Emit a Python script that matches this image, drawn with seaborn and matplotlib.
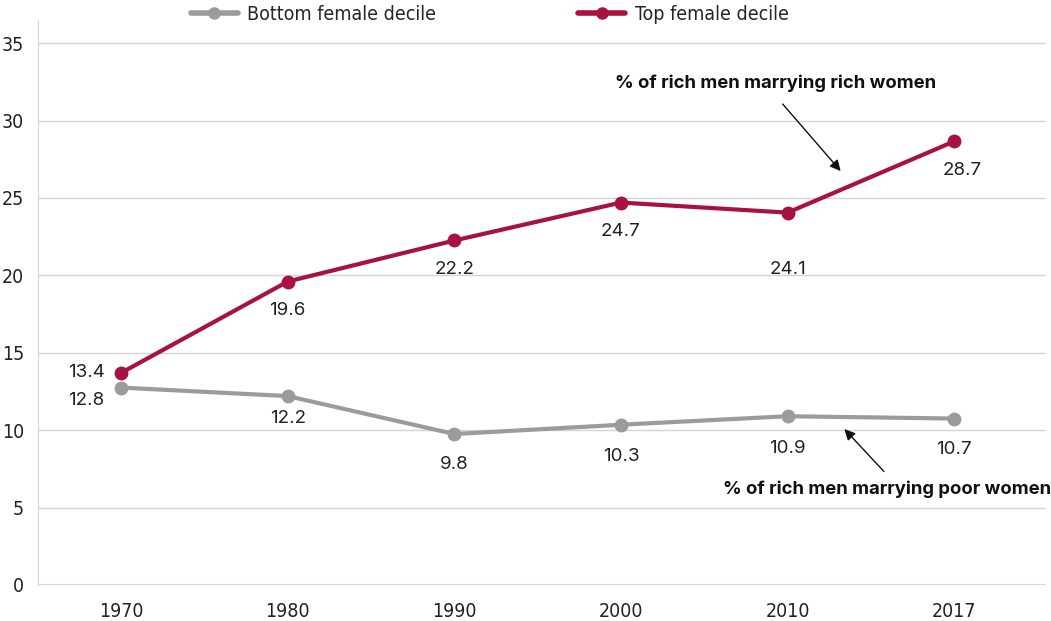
#!/usr/bin/env python3
"""Assortative mating: share of rich men marrying rich / poor women."""

import numpy as np
import pandas as pd
import matplotlib
matplotlib.use("Agg")
import matplotlib.pyplot as plt
import seaborn as sns

years = ["1970", "1980", "1990", "2000", "2010", "2017"]
bottom_vals = [12.75, 12.2, 9.75, 10.35, 10.9, 10.75]
top_vals = [13.7, 19.6, 22.25, 24.7, 24.05, 28.65]
bottom_labels = ["12.8", "12.2", "9.8", "10.3", "10.9", "10.7"]
top_labels = ["13.4", "19.6", "22.2", "24.7", "24.1", "28.7"]
series_names = ["Bottom female decile", "Top female decile"]

RED = "#a8123e"
GREY = "#9b9b9f"
GRID = "#d4d4d4"

df = pd.DataFrame({
    "pos": list(range(len(years))) * 2,
    "value": bottom_vals + top_vals,
    "series": [series_names[0]] * len(years) + [series_names[1]] * len(years),
})

sns.set_style("white")
plt.rcParams["font.family"] = ["DejaVu Sans"]
plt.rcParams["font.stretch"] = "condensed"

fig = plt.figure(figsize=(10.51, 6.21), dpi=100)
ax = fig.add_axes([0.036, 0.058, 0.959, 0.91])

sns.lineplot(data=df, x="pos", y="value", hue="series",
             palette={series_names[0]: GREY, series_names[1]: RED},
             hue_order=series_names, marker="o", markersize=10,
             markeredgewidth=0, linewidth=3, ax=ax, legend=False, zorder=3)

ax.set_xlim(-0.5, 5.55)
ax.set_ylim(0, 36.5)
ax.set_yticks(range(0, 36, 5))
ax.set_xticks(range(len(years)))
ax.set_xticklabels(years)
ax.set_xlabel("")
ax.set_ylabel("")
ax.grid(axis="y", color=GRID, linewidth=1)
ax.set_axisbelow(True)
for s in ["top", "right", "bottom"]:
    ax.spines[s].set_visible(False)
ax.spines["left"].set_color(GRID)
ax.tick_params(axis="y", length=8, color=GRID, labelsize=14, pad=2, labelcolor="#222222")
ax.tick_params(axis="x", length=6, color=GRID, labelsize=14, pad=6, labelcolor="#222222")
ax.axhline(0, color=GRID, linewidth=1.5, zorder=1)

# data labels (offsets in points)
lab_font = dict(family=["Inter", "DejaVu Sans"], fontsize=13.5, color="#222222",
                fontstretch="normal")
top_off = [(-12, 0), (0, -21), (0, -21), (0, -21), (0, -41), (6, -21)]
bot_off = [(-12, -9), (0, -16), (0, -22), (0, -23), (0, -23), (0, -22)]
for i in range(len(years)):
    dx, dy = top_off[i]
    ha = "right" if i == 0 else "center"
    ax.annotate(top_labels[i], (i, top_vals[i]), xytext=(dx, dy),
                textcoords="offset points", ha=ha, va="center", **lab_font)
    dx, dy = bot_off[i]
    ax.annotate(bottom_labels[i], (i, bottom_vals[i]), xytext=(dx, dy),
                textcoords="offset points", ha=ha, va="center", **lab_font)

ann_font = dict(family=["Inter", "DejaVu Sans"], fontsize=13.3, fontweight="bold",
                color="#111111", fontstretch="normal")
ax.text(3.93, 32.4, "% of rich men marrying rich women", ha="center",
        va="center", **ann_font)
ax.annotate("", xy=(4.33, 26.6), xytext=(3.96, 31.2),
            arrowprops=dict(arrowstyle="-|>", color="#111111", lw=1,
                            mutation_scale=16))
ax.text(4.6, 6.2, "% of rich men marrying poor women", ha="center",
        va="center", **ann_font)
ax.annotate("", xy=(4.33, 10.2), xytext=(4.59, 7.2),
            arrowprops=dict(arrowstyle="-|>", color="#111111", lw=1,
                            mutation_scale=16))

# legend on top
handles = [plt.Line2D([], [], color=c, lw=4, marker="o", markersize=9,
                      markeredgewidth=0) for c in (GREY, RED)]
fig.legend(handles, series_names, loc="upper left", bbox_to_anchor=(0.165, 1.02),
           ncol=2, frameon=False, fontsize=14, handlelength=2.4,
           columnspacing=7.3, handletextpad=0.5)

fig.savefig("out.png", dpi=100)
